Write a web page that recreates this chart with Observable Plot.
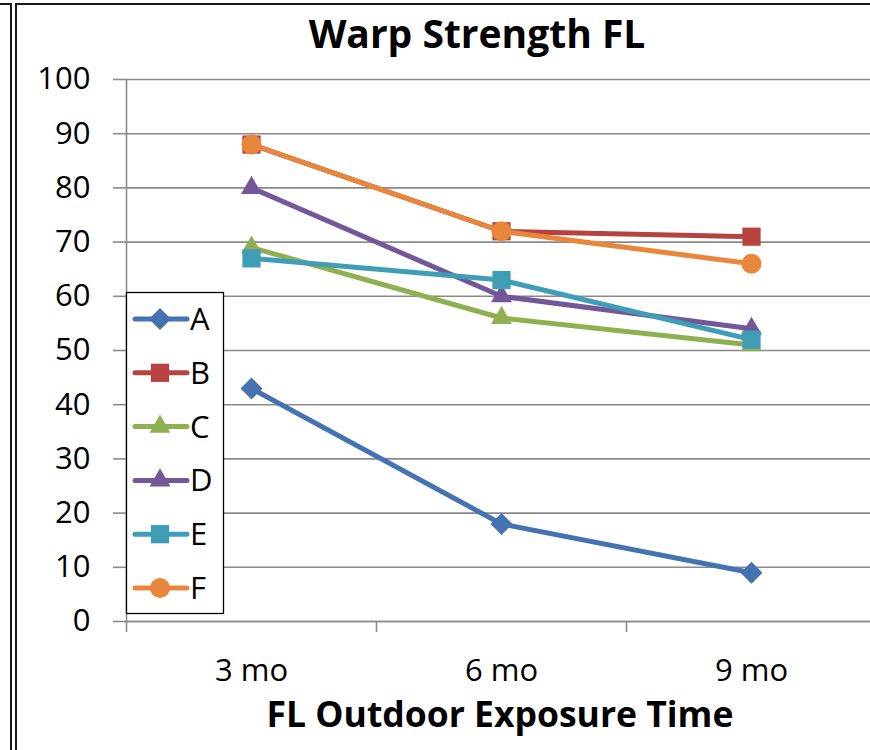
<!DOCTYPE html>
<html>
<head>
<meta charset="utf-8">
<script src="https://cdn.jsdelivr.net/npm/d3@7"></script>
<script src="https://cdn.jsdelivr.net/npm/@observablehq/plot@0.6"></script>
<style>
  html, body { margin: 0; padding: 0; background: #fff; }
  #wrap { position: relative; width: 870px; height: 750px; overflow: hidden; font-family: "Open Sans", sans-serif; }
  .b { position: absolute; background: #1a1a1a; }
</style>
</head>
<body>
<div id="wrap">
  <div class="b" style="left:0;top:3px;width:12px;height:2px"></div>
  <div class="b" style="left:16px;top:3px;width:854px;height:2px"></div>
  <div class="b" style="left:10px;top:3px;width:2px;height:747px"></div>
  <div class="b" style="left:15px;top:3px;width:2px;height:747px"></div>
  <div id="chart" style="position:absolute;left:0;top:0"></div>
</div>
<script>
const categories = ["3 mo", "6 mo", "9 mo"];
const seriesNames = ["A", "B", "C", "D", "E", "F"];
const seriesA = [43, 18, 9];
const seriesB = [88, 72, 71];
const seriesC = [69, 56, 51];
const seriesD = [80, 60, 54];
const seriesE = [67, 63, 52];
const seriesF = [88, 72, 66];
const yTicks = [0, 10, 20, 30, 40, 50, 60, 70, 80, 90, 100];
const colors = ["#4573B1", "#B6433F", "#8EB050", "#735799", "#3F9DB6", "#E8873C"];
const symbols = ["diamond2", "square2", "triangle2", "triangle2", "square2", "circle"];
const symbolR = [9.9, 11.6, 10, 10, 11.6, 10];

const allSeries = [seriesA, seriesB, seriesC, seriesD, seriesE, seriesF];
const data = [];
seriesNames.forEach((s, i) => {
  allSeries[i].forEach((v, j) => data.push({series: s, cat: categories[j], value: v}));
});

const seriesMarks = [];
seriesNames.forEach((s, i) => {
  const rows = data.filter(d => d.series === s);
  seriesMarks.push(Plot.line(rows, {x: "cat", y: "value", stroke: colors[i], strokeWidth: 5, strokeLinejoin: "round", strokeLinecap: "round"}));
  seriesMarks.push(Plot.dot(rows, {x: "cat", y: "value", fill: colors[i], stroke: "none", symbol: () => symbols[i], r: symbolR[i]}));
});

const chart = Plot.plot({
  width: 870,
  height: 750,
  marginLeft: 126,
  marginRight: 0,
  marginTop: 79,
  marginBottom: 129,
  style: {fontFamily: "Open Sans", color: "#000", background: "transparent"},
  x: {type: "band", domain: categories, range: [126, 876], padding: 0},
  y: {domain: [0, 100]},
  symbol: {type: "identity"},
  marks: [
    Plot.gridY(yTicks, {stroke: "#8a8a8a", strokeOpacity: 1, strokeWidth: 1.6}),
    Plot.ruleY([0], {stroke: "#8a8a8a", strokeWidth: 1.6}),
    Plot.frame({anchor: "left", stroke: "#8a8a8a", strokeWidth: 1.6}),
    Plot.axisY(yTicks, {tickSize: 13, tickPadding: 23, fontSize: 31, label: null, stroke: "#8a8a8a", strokeWidth: 1.6, fill: "#000"}),
    Plot.axisX({tickSize: 11, dx: -125, text: null, label: null, stroke: "#8a8a8a", strokeWidth: 1.6}),
    Plot.axisX({tickSize: 0, tickPadding: 37, fontSize: 31, label: null, fill: "#000"}),
    ...seriesMarks
  ]
});
document.getElementById("chart").appendChild(chart);

const svg = d3.select(chart);
svg.append("text")
  .attr("x", 477).attr("y", 48)
  .attr("text-anchor", "middle")
  .style("font-family", "Open Sans").style("font-weight", "700").style("font-size", "39px")
  .attr("fill", "#000")
  .text("Warp Strength FL");
svg.append("text")
  .attr("x", 500).attr("y", 727)
  .attr("text-anchor", "middle")
  .style("font-family", "Open Sans").style("font-weight", "700").style("font-size", "35.5px")
  .attr("fill", "#000")
  .text("FL Outdoor Exposure Time");

// legend
const lg = svg.append("g");
lg.append("rect").attr("x", 126.5).attr("y", 292.5).attr("width", 97).attr("height", 321)
  .attr("fill", "#fff").attr("stroke", "#000").attr("stroke-width", 1.3);
const d3sym = {diamond2: d3.symbolDiamond2, square2: d3.symbolSquare2, triangle2: d3.symbolTriangle2, circle: d3.symbolCircle};
seriesNames.forEach((s, i) => {
  const y = 319 + i * 53.8;
  lg.append("line").attr("x1", 135).attr("x2", 187).attr("y1", y).attr("y2", y)
    .attr("stroke", colors[i]).attr("stroke-width", 5).attr("stroke-linecap", "round");
  lg.append("path").attr("transform", `translate(160,${y})`)
    .attr("d", d3.symbol(d3sym[symbols[i]], Math.PI * symbolR[i] * symbolR[i])())
    .attr("fill", colors[i]);
  lg.append("text").attr("x", 190).attr("y", y + 11)
    .attr("text-anchor", "start")
    .style("font-family", "Open Sans").style("font-size", "31px").attr("fill", "#000")
    .text(s);
});
</script>
</body>
</html>
